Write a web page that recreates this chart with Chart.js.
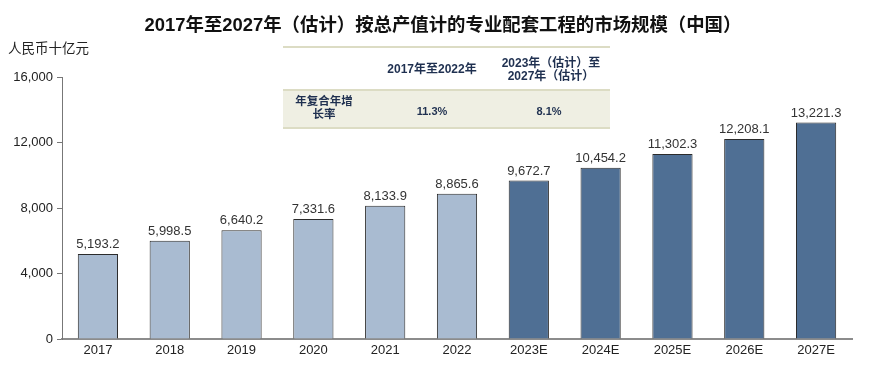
<!DOCTYPE html>
<html><head><meta charset="utf-8">
<script src="https://cdn.jsdelivr.net/npm/chart.js@4"></script>
<style>
html,body{margin:0;padding:0;background:#fff;}
#wrap{position:relative;width:875px;height:365px;overflow:hidden;font-family:"Liberation Sans","Noto Sans CJK SC",sans-serif;}
canvas{position:absolute;left:0;top:0;}
.t{position:absolute;white-space:nowrap;}
#title{left:0;width:886px;top:10px;text-align:center;font-weight:bold;font-size:18.4px;color:#111;}
#unit{left:8px;top:37px;font-size:13.5px;color:#222;}
#band{position:absolute;left:283px;top:89px;width:327px;height:40px;background:#efefe3;border-top:2px solid #dcdcc4;border-bottom:2px solid #dcdcc4;box-sizing:border-box;}
#topline{position:absolute;left:283px;top:46px;width:327px;height:2px;background:#dcdcc4;}
.tb{font-weight:bold;color:#1f3050;text-align:center;}
</style></head>
<body><div id="wrap">
<canvas id="c" width="875" height="365"></canvas>
<div id="title" class="t">2017年至2027年（估计）按总产值计的专业配套工程的市场规模（中国）</div>
<div id="unit" class="t">人民币十亿元</div>
<div id="topline"></div>
<div id="band"></div>
<div class="t tb" style="left:372px;width:120px;top:62px;font-size:12px;line-height:14px;">2017年至2022年</div>
<div class="t tb" style="left:491px;width:120px;top:57px;font-size:12px;line-height:13px;">2023年（估计）至<br>2027年（估计）</div>
<div class="t tb" style="left:284px;width:80px;top:95px;font-size:11.5px;line-height:13px;">年复合年增<br>长率</div>
<div class="t tb" style="left:402px;width:60px;top:104px;font-size:11px;line-height:14px;">11.3%</div>
<div class="t tb" style="left:519px;width:60px;top:104px;font-size:11px;line-height:14px;">8.1%</div>
</div>
<script>
const categories = ["2017","2018","2019","2020","2021","2022","2023E","2024E","2025E","2026E","2027E"];
const values = [5193.2,5998.5,6640.2,7331.6,8133.9,8865.6,9672.7,10454.2,11302.3,12208.1,13221.3];
const yTicks = [0,4000,8000,12000,16000];
const histColor = "#a9bbd1";
const foreColor = "#4f6f94";
const colors = categories.map(c => c.endsWith("E") ? foreColor : histColor);

const labelPlugin = {
  id:"vlabels",
  afterDatasetsDraw(chart){
    const ctx = chart.ctx;
    const meta = chart.getDatasetMeta(0);
    ctx.save();
    ctx.font = '13px "Liberation Sans", Arial, sans-serif';
    ctx.fillStyle = "#333";
    ctx.textAlign = "center";
    ctx.textBaseline = "bottom";
    meta.data.forEach((bar,i)=>{
      const v = values[i].toLocaleString("en-US",{minimumFractionDigits:1,maximumFractionDigits:1});
      ctx.fillText(v, bar.x, bar.y - 3);
    });
    ctx.restore();
  }
};

new Chart(document.getElementById("c"), {
  type:"bar",
  data:{labels:categories,datasets:[{data:values,backgroundColor:colors,borderColor:"#2b2b2b",borderWidth:1,barPercentage:0.56,categoryPercentage:1}]},
  options:{
    responsive:false,animation:false,
    layout:{padding:{left:0,right:23,top:77,bottom:0}},
    plugins:{legend:{display:false},tooltip:{enabled:false},title:{display:false}},
    scales:{
      x:{
        grid:{display:false,drawTicks:false},
        border:{display:true,color:"#8c8c8c",width:2},
        ticks:{color:"#222",font:{size:13,family:'"Liberation Sans", Arial, sans-serif'},padding:4,maxRotation:0,autoSkip:false},
        afterFit(s){s.height=26;}
      },
      y:{
        min:0,max:16000,
        afterBuildTicks(s){s.ticks = yTicks.map(v=>({value:v}));},
        grid:{drawOnChartArea:false,drawTicks:true,tickLength:5,color:"#777"},
        border:{display:true,color:"#777",width:1},
        ticks:{color:"#222",font:{size:13,family:'"Liberation Sans", Arial, sans-serif'},padding:4,
          callback:v=>v.toLocaleString("en-US")},
        afterFit(s){s.width=62;}
      }
    }
  },
  plugins:[labelPlugin]
});
</script>
</body></html>
